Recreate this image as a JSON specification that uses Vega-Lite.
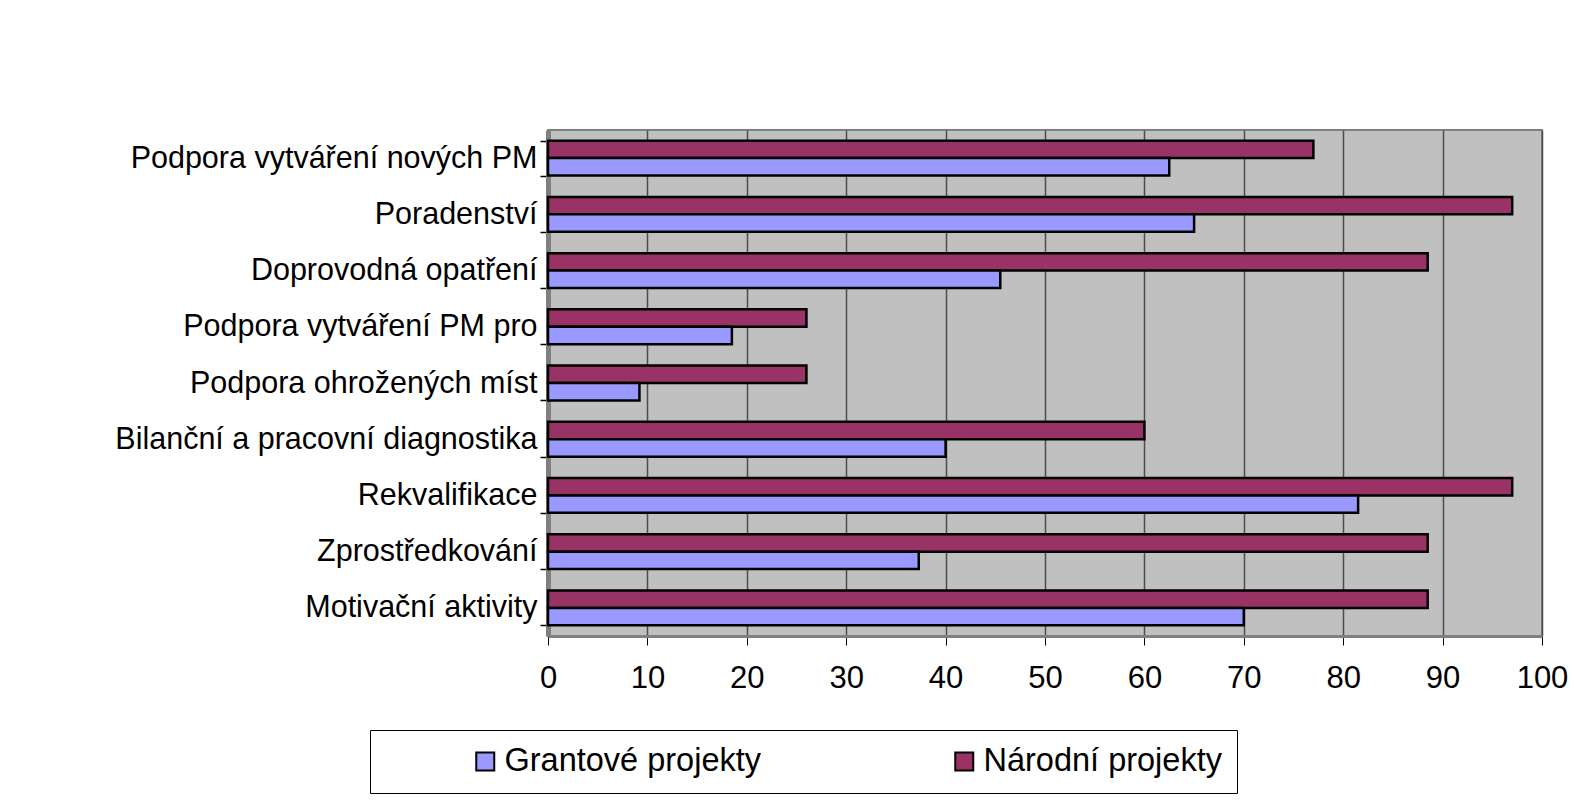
{
  "$schema": "https://vega.github.io/schema/vega-lite/v6.json",
  "autosize": "none",
  "width": 994,
  "height": 506,
  "padding": {"left": 548, "top": 130, "right": 32, "bottom": 167},
  "background": "white",
  "config": {
    "font": "Liberation Sans",
    "view": {"fill": "#C0C0C0", "stroke": "#808080", "strokeWidth": 2}
  },
  "data": {
    "values": [
      {"kategorie": "Podpora vytváření nových PM", "serie": "Národní projekty", "hodnota": 77},
      {"kategorie": "Podpora vytváření nových PM", "serie": "Grantové projekty", "hodnota": 62.5},
      {"kategorie": "Poradenství", "serie": "Národní projekty", "hodnota": 97},
      {"kategorie": "Poradenství", "serie": "Grantové projekty", "hodnota": 65},
      {"kategorie": "Doprovodná opatření", "serie": "Národní projekty", "hodnota": 88.5},
      {"kategorie": "Doprovodná opatření", "serie": "Grantové projekty", "hodnota": 45.5},
      {"kategorie": "Podpora vytváření PM pro", "serie": "Národní projekty", "hodnota": 26},
      {"kategorie": "Podpora vytváření PM pro", "serie": "Grantové projekty", "hodnota": 18.5},
      {"kategorie": "Podpora ohrožených míst", "serie": "Národní projekty", "hodnota": 26},
      {"kategorie": "Podpora ohrožených míst", "serie": "Grantové projekty", "hodnota": 9.2},
      {"kategorie": "Bilanční a pracovní diagnostika", "serie": "Národní projekty", "hodnota": 60},
      {"kategorie": "Bilanční a pracovní diagnostika", "serie": "Grantové projekty", "hodnota": 40},
      {"kategorie": "Rekvalifikace", "serie": "Národní projekty", "hodnota": 97},
      {"kategorie": "Rekvalifikace", "serie": "Grantové projekty", "hodnota": 81.5},
      {"kategorie": "Zprostředkování", "serie": "Národní projekty", "hodnota": 88.5},
      {"kategorie": "Zprostředkování", "serie": "Grantové projekty", "hodnota": 37.3},
      {"kategorie": "Motivační aktivity", "serie": "Národní projekty", "hodnota": 88.5},
      {"kategorie": "Motivační aktivity", "serie": "Grantové projekty", "hodnota": 70}
    ]
  },
  "mark": {"type": "bar", "stroke": "black", "strokeWidth": 2.5},
  "encoding": {
    "y": {
      "field": "kategorie",
      "type": "nominal",
      "sort": null,
      "scale": {"paddingInner": 0.38, "paddingOuter": 0.19},
      "axis": {
        "title": null,
        "tickBand": "extent",
        "tickSize": 8,
        "tickColor": "black",
        "tickWidth": 1.5,
        "domainColor": "#808080",
        "domainWidth": 5,
        "labelFontSize": 30.5,
        "labelColor": "black",
        "labelPadding": 3,
        "labelLimit": 500
      }
    },
    "yOffset": {
      "field": "serie",
      "type": "nominal",
      "sort": ["Národní projekty", "Grantové projekty"]
    },
    "x": {
      "field": "hodnota",
      "type": "quantitative",
      "scale": {"domain": [0, 100], "nice": false},
      "axis": {
        "title": null,
        "values": [0, 10, 20, 30, 40, 50, 60, 70, 80, 90, 100],
        "grid": true,
        "gridColor": "#4d4d4d",
        "gridWidth": 1.5,
        "tickSize": 9,
        "tickColor": "black",
        "tickWidth": 1,
        "domainColor": "#808080",
        "domainWidth": 3,
        "labelFontSize": 31,
        "labelColor": "black",
        "labelPadding": 18,
        "labelFlush": false
      }
    },
    "color": {
      "field": "serie",
      "type": "nominal",
      "sort": ["Grantové projekty", "Národní projekty"],
      "scale": {"domain": ["Grantové projekty", "Národní projekty"], "range": ["#9999FF", "#993366"]},
      "legend": {
        "title": null,
        "orient": "none",
        "legendX": -178,
        "legendY": 600,
        "direction": "horizontal",
        "columns": 2,
        "strokeColor": "black",
        "fillColor": "white",
        "padding": 15,
        "symbolType": "square",
        "symbolSize": 324,
        "symbolStrokeColor": "black",
        "symbolStrokeWidth": 2,
        "symbolOffset": 84,
        "labelFontSize": 32.5,
        "labelColor": "black",
        "labelOffset": 3,
        "labelLimit": 400,
        "columnPadding": 102
      }
    }
  }
}
